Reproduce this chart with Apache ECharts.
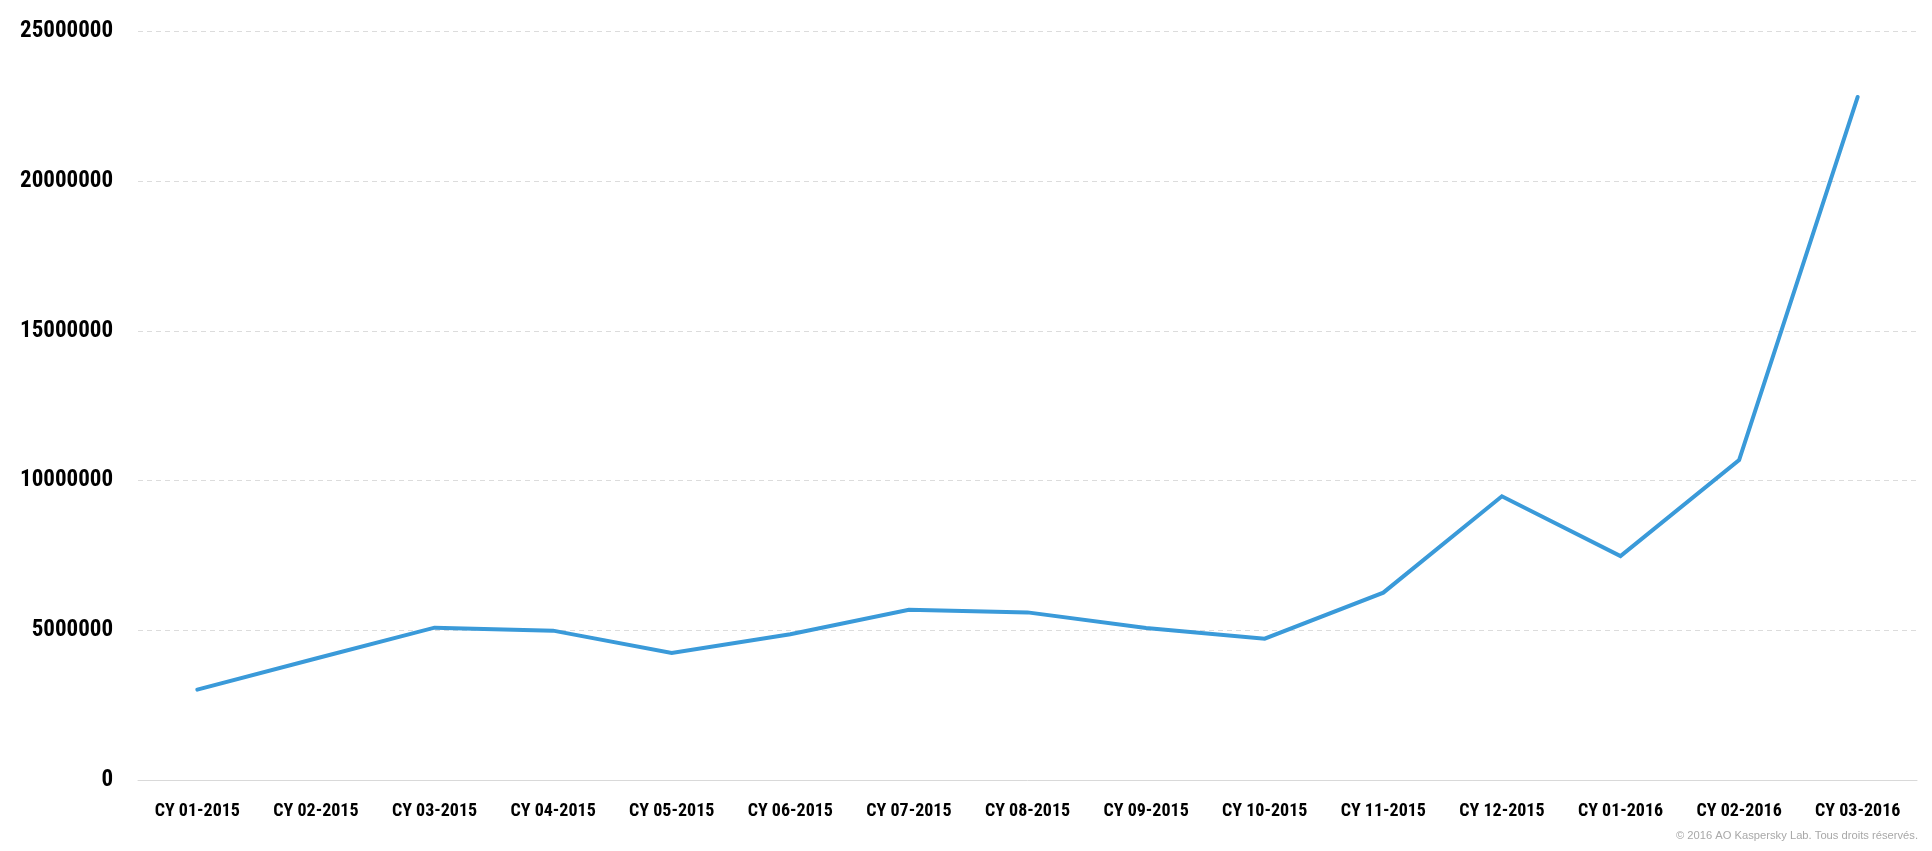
<!DOCTYPE html>
<html>
<head>
<meta charset="utf-8">
<script src="https://cdn.jsdelivr.net/npm/echarts@6/dist/echarts.min.js"></script>
<style>
html,body{margin:0;padding:0;background:#fff;}
#chart{width:1932px;height:851px;}
</style>
</head>
<body>
<div id="chart"></div>
<script>
const categories = ["CY 01-2015","CY 02-2015","CY 03-2015","CY 04-2015","CY 05-2015","CY 06-2015","CY 07-2015","CY 08-2015","CY 09-2015","CY 10-2015","CY 11-2015","CY 12-2015","CY 01-2016","CY 02-2016","CY 03-2016"];
const values = [3020000, 4060000, 5090000, 4990000, 4240000, 4870000, 5690000, 5600000, 5080000, 4720000, 6260000, 9480000, 7480000, 10690000, 22820000];
const yMin = 0, yMax = 25000000, yStep = 5000000;
const copyright = "© 2016 AO Kaspersky Lab. Tous droits réservés.";

const condensed = '"Roboto Condensed", "DejaVu Sans Condensed", "Liberation Sans", sans-serif';
const chart = echarts.init(document.getElementById('chart'));
chart.setOption({
  animation: false,
  backgroundColor: '#ffffff',
  grid: { left: 138, right: 15, top: 31.7, bottom: 71, containLabel: false, outerBoundsMode: 'none' },
  xAxis: {
    type: 'category',
    data: categories,
    boundaryGap: true,
    axisLine: { show: true, lineStyle: { color: '#d9d9d9', width: 1 } },
    axisTick: { show: false },
    axisLabel: {
      color: '#000', fontFamily: condensed,
      fontWeight: 'bold', fontSize: 18, margin: 22, interval: 0
    },
    splitLine: { show: false }
  },
  yAxis: {
    type: 'value',
    min: yMin, max: yMax, interval: yStep,
    axisLine: { show: false },
    axisTick: { show: false },
    axisLabel: {
      color: '#000', fontFamily: condensed,
      fontWeight: 'bold', fontSize: 23, margin: 25,
      formatter: function (v) { return String(v); }
    },
    splitLine: { show: true, lineStyle: { color: '#dcdcdc', type: [5, 4], width: 1 } }
  },
  series: [{
    type: 'line',
    data: values,
    symbol: 'none',
    lineStyle: { color: '#3a9ad9', width: 4, cap: 'round', join: 'miter' },
    itemStyle: { color: '#3a9ad9' }
  }],
  graphic: [{
    type: 'text',
    right: 14,
    top: 830,
    style: {
      text: copyright,
      fill: '#a8a8a8',
      font: '11.2px "Liberation Sans", Arial, sans-serif'
    }
  }]
});
</script>
</body>
</html>
